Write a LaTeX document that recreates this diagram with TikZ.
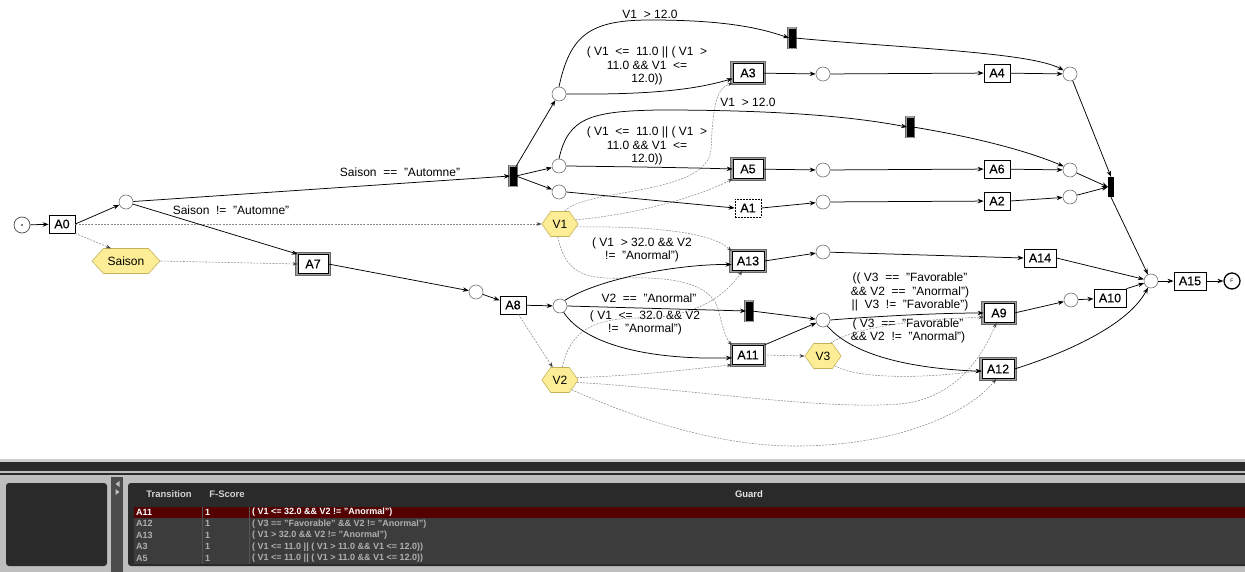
\documentclass[tikz,border=0pt]{standalone}
\usepackage{fontspec}
\setmainfont{Liberation Sans}
\newfontfamily\nodefam{Liberation Sans}[FakeBold=0.35]
\usetikzlibrary{arrows.meta,shapes.symbols,calc}
\definecolor{hexfill}{RGB}{253,237,150}
\definecolor{hexdraw}{RGB}{196,178,92}
\definecolor{depgray}{RGB}{140,140,140}
\definecolor{panelbg}{RGB}{190,190,190}
\definecolor{panellight}{RGB}{205,205,205}
\definecolor{paneldark}{RGB}{42,42,42}
\definecolor{tablebg}{RGB}{60,60,60}
\definecolor{tableline}{RGB}{85,85,85}
\definecolor{selred}{RGB}{84,0,0}
\definecolor{rowtxt}{RGB}{175,175,175}
\begin{document}
\begin{tikzpicture}[x=1pt,y=-1pt,
  nodefont/.style={font=\nodefam\fontsize{12.5}{14}\selectfont},
  act/.style={draw=black, line width=0.7pt, fill=white, minimum width=26pt, minimum height=18pt, inner xsep=5pt, inner ysep=0pt, nodefont},
  dact/.style={act, minimum width=30pt, minimum height=19pt, preaction={draw=black!60, line width=5.4pt}, preaction={draw=black!38, line width=3.6pt}},
  place/.style={circle, draw=black!55, line width=0.6pt, fill=white, minimum size=14pt, inner sep=0pt},
  blk/.style={rectangle, fill=black, draw=black, line width=0.4pt, minimum width=5.5pt, minimum height=18.5pt, inner sep=0pt, preaction={draw=black!60, line width=4.2pt}, preaction={draw=black!38, line width=2.8pt}},
  blkplain/.style={rectangle, fill=black, minimum width=6pt, minimum height=20pt, inner sep=0pt},
  hexa/.style={signal, signal to=west and east, signal pointer angle=110, fill=hexfill, draw=hexdraw, line width=0.6pt, minimum width=35pt, minimum height=25pt, inner xsep=2pt, inner ysep=0pt, font=\fontsize{12}{13}\selectfont},
  lab/.style={font=\fontsize{12}{13.6}\selectfont, align=center, inner sep=0pt},
  arc/.style={draw=black, line width=0.75pt, -{Stealth[length=6pt,width=4.5pt]}},
  dep/.style={draw=depgray, line width=0.55pt, dash pattern=on 2pt off 1.2pt, -{Stealth[length=5pt,width=3.6pt,color=black!75]}},
  hdr/.style={font=\fontsize{9.5}{11}\selectfont\bfseries, text=black!18, inner sep=0pt},
  cell/.style={font=\fontsize{9}{10}\selectfont\bfseries, text=rowtxt, inner sep=0pt, anchor=west},
  selcell/.style={cell, text=white}
]
\useasboundingbox (0,0) rectangle (1245,572);

% ---------------- nodes ----------------
\node[circle, draw=black!70, line width=0.7pt, fill=white, minimum size=16pt, inner sep=0pt] (s) at (22,225) {};
\fill[black] (s.center) circle (0.9pt);
\node[act] (A0) at (62,224) {A0};
\node[place] (p1) at (126,202) {};
\node[hexa, minimum width=68pt, signal pointer angle=95] (Sa) at (126,261) {Saison};
\node[dact] (A7) at (313,264) {A7};
\node[blk] (T1) at (513,176) {};
\node[place] (p2) at (559,94) {};
\node[place] (p3) at (559,166) {};
\node[place] (p4) at (559,192) {};
\node[blk] (T2) at (792,38) {};
\node[dact] (A3) at (748,73) {A3};
\node[place] (p5) at (823,74) {};
\node[act] (A4) at (997,73) {A4};
\node[place] (p6) at (1070,74) {};
\node[blk] (T3) at (910,127) {};
\node[dact] (A5) at (748,169) {A5};
\node[place] (p7) at (823,170) {};
\node[act] (A6) at (997,169) {A6};
\node[place] (p8) at (1070,170) {};
\node[act, dash pattern=on 1.6pt off 1.4pt] (A1) at (748,208) {A1};
\node[place] (p9) at (823,202) {};
\node[act] (A2) at (997,201) {A2};
\node[place] (p10) at (1070,197) {};
\node[blkplain] (T4) at (1111,187) {};
\node[hexa] (V1) at (560,224) {V1};
\node[dact] (A13) at (748,261) {A13};
\node[place] (p11) at (823,252) {};
\node[act] (A14) at (1040,258) {A14};
\node[place] (p12) at (476,292) {};
\node[act] (A8) at (513,305) {A8};
\node[place] (p13) at (560,306) {};
\node[blk] (T5) at (749,311) {};
\node[place] (p14) at (823,320) {};
\node[dact] (A11) at (748,355) {A11};
\node[hexa] (V3) at (823,356) {V3};
\node[hexa] (V2) at (560,380) {V2};
\node[dact] (A9) at (999,313) {A9};
\node[place] (p15) at (1071,300) {};
\node[act] (A10) at (1110,298) {A10};
\node[dact] (A12) at (998,369) {A12};
\node[place] (p16) at (1151,281) {};
\node[act] (A15) at (1190,281) {A15};
\node[circle, draw=black, line width=1.3pt, fill=white, minimum size=16pt, inner sep=0pt, font=\fontsize{5}{6}\selectfont] (F) at (1232,281) {F};

% ---------------- labels ----------------
\node[lab] (g1) at (650,14) {V1\ \ > 12.0};
\node[lab] (g2) at (647,66) {( V1\ \ <=\ \ 11.0 || ( V1\ \ >\\11.0 \&\& V1\ \ <=\\12.0))};
\node[lab] (g3) at (748,102) {V1\ \ > 12.0};
\node[lab] (g4) at (647,146) {( V1\ \ <=\ \ 11.0 || ( V1\ \ >\\11.0 \&\& V1\ \ <=\\12.0))};
\node[lab] (g5) at (400,172) {Saison\ \ ==\ \ "Automne"};
\node[lab] (g6) at (231,210) {Saison\ \ !=\ \ "Automne"};
\node[lab] (g7) at (642,250) {( V1\ \ > 32.0 \&\& V2\\!=\ \ "Anormal")};
\node[lab] (g8) at (649,298) {V2\ \ ==\ \ "Anormal"};
\node[lab] (g9) at (645,323) {( V1\ \ <=\ \ 32.0 \&\& V2\\!=\ \ "Anormal")};
\node[lab] (g10) at (910,292) {(( V3\ \ ==\ \ "Favorable"\\\&\& V2\ \ ==\ \ "Anormal")\\||\ \ V3\ \ !=\ \ "Favorable")};
\node[lab] (g11) at (908,331) {( V3\ \ ==\ \ "Favorable"\\\&\& V2\ \ !=\ \ "Anormal")};

% ---------------- data dependencies (dashed) ----------------
\draw[dep] (A0.east) -- (V1.west);
\draw[dep] (A0.south east) -- (Sa.140);
\draw[dep] (Sa.east) -- (A7.west);
\draw[dep] (A8.-60) -- (V2.120);
\draw[dep] (A11.east) -- (V3.west);
\draw[dep] (V1.70) .. controls (585,188) and (706,196) .. (711,150) .. controls (713,100) and (718,88) .. (A3.south west);
\draw[dep] (V1.15) .. controls (640,214) and (700,196) .. (A5.south west);
\draw[dep] (V1.-10) .. controls (650,226) and (712,232) .. (A13.north west);
\draw[dep] (V1.-100) .. controls (565,270) and (580,280) .. (625,278) .. controls (690,276) and (714,290) .. (719,312) .. controls (723,330) and (727,340) .. (A11.north west);
\draw[dep] (V2.80) .. controls (570,332) and (592,318) .. (640,318) .. controls (690,318) and (722,300) .. (A13.-120);
\draw[dep] (V2.8) .. controls (650,375) and (700,368) .. (A11.south west);
\draw[dep] (V2.-8) .. controls (700,390) and (820,410) .. (900,404) .. controls (960,398) and (985,350) .. (A9.-105);
\draw[dep] (V2.-40) .. controls (640,420) and (720,447) .. (800,446) .. controls (900,445) and (970,412) .. (A12.-100);
\draw[dep] (V3.60) .. controls (850,330) and (900,320) .. (A9.195);
\draw[dep] (V3.-40) .. controls (860,380) and (930,378) .. (A12.185);

% ---------------- control flow (solid) ----------------
\draw[arc] (s) -- (A0);
\draw[arc] (A0.east) -- (p1);
\draw[arc] (p1) -- (T1.west);
\draw[arc] (p1) -- (A7.north west);
\draw[arc] (T1.north east) -- (p2);
\draw[arc] (T1.east) -- (p3);
\draw[arc] (T1.east) -- (p4);
\draw[arc] (p2.north) .. controls (570,35) and (590,20) .. (650,20) .. controls (725,20) and (760,28) .. (T2.west);
\draw[arc] (p2.east) .. controls (660,95) and (700,88) .. (A3.200);
\draw[arc] (T2.east) .. controls (900,48) and (1030,52) .. (p6.150);
\draw[arc] (A3) -- (p5);
\draw[arc] (p5) -- (A4);
\draw[arc] (A4) -- (p6);
\draw[arc] (p3.north) .. controls (568,118) and (590,111) .. (660,110) .. controls (790,110) and (860,118) .. (T3.west);
\draw[arc] (p3.east) .. controls (650,167) and (700,168) .. (A5.west);
\draw[arc] (T3.east) .. controls (980,138) and (1030,152) .. (p8.150);
\draw[arc] (A5) -- (p7);
\draw[arc] (p7) -- (A6);
\draw[arc] (A6) -- (p8);
\draw[arc] (p4.east) -- (A1.west);
\draw[arc] (A1.east) -- (p9);
\draw[arc] (p9) -- (A2);
\draw[arc] (A2.east) -- (p10);
\draw[arc] (p6) -- (T4.north);
\draw[arc] (p8) -- (T4.west);
\draw[arc] (p10) -- (T4.west);
\draw[arc] (T4.south) -- (p16);
\draw[arc] (A7.east) -- (p12);
\draw[arc] (p12) -- (A8);
\draw[arc] (A8) -- (p13);
\draw[arc] (p13.50) .. controls (600,278) and (680,264) .. (A13.192);
\draw[arc] (p13.east) -- (T5.west);
\draw[arc] (p13.-60) .. controls (585,345) and (650,360) .. (A11.190);
\draw[arc] (A13.east) -- (p11);
\draw[arc] (p11) -- (A14.west);
\draw[arc] (A14.east) -- (p16);
\draw[arc] (T5.east) -- (p14);
\draw[arc] (A11.north east) -- (p14);
\draw[arc] (p14.east) .. controls (880,316) and (940,313) .. (A9.west);
\draw[arc] (p14.-55) .. controls (850,352) and (900,368) .. (A12.188);
\draw[arc] (A9.east) -- (p15);
\draw[arc] (p15) -- (A10);
\draw[arc] (A10.north east) -- (p16);
\draw[arc] (A12.east) .. controls (1075,350) and (1130,322) .. (p16.245);
\draw[arc] (p16) -- (A15);
\draw[arc] (A15) -- (F);

% ---------------- bottom panel ----------------
\fill[panelbg] (0,459) rectangle (1245,572);
\fill[panellight] (0,459) rectangle (1245,462);
\fill[paneldark] (0,462) rectangle (1245,470.5);
\fill[paneldark] (0,472.5) rectangle (1245,475);
\fill[paneldark, rounded corners=3pt] (6,483) rectangle (107,566);
\fill[black!70] (111,477) rectangle (123,572);
\fill[black!25] (119.5,481) -- (119.5,487) -- (115.5,484) -- cycle;
\fill[black!25] (115.5,489) -- (115.5,495) -- (119.5,492) -- cycle;
\fill[paneldark, rounded corners=3pt] (128,483) rectangle (1260,566);
\fill[tablebg] (134,507) rectangle (1245,563.5);
\fill[selred] (134,507) rectangle (1245,517.5);
\draw[tableline, line width=0.4pt] (202,507) -- (202,563.5);
\draw[tableline, line width=0.4pt] (249,507) -- (249,563.5);
\node[hdr] (h1) at (169,494.5) {Transition};
\node[hdr] (h2) at (227,494.5) {F-Score};
\node[hdr, text=black!10] (h3) at (749,494.5) {Guard};
\node[selcell] (r1a) at (136,512.3) {A11};
\node[selcell] (r1b) at (205,512.3) {1};
\node[selcell] (r1c) at (252,512.3) {( V1 <= 32.0 \&\& V2 != "Anormal")};
\node[cell] (r2a) at (136,523.8) {A12};
\node[cell] (r2b) at (205,523.8) {1};
\node[cell] (r2c) at (252,523.8) {( V3 == "Favorable" \&\& V2 != "Anormal")};
\node[cell] (r3a) at (136,535.3) {A13};
\node[cell] (r3b) at (205,535.3) {1};
\node[cell] (r3c) at (252,535.3) {( V1 > 32.0 \&\& V2 != "Anormal")};
\node[cell] (r4a) at (136,546.8) {A3};
\node[cell] (r4b) at (205,546.8) {1};
\node[cell] (r4c) at (252,546.8) {( V1 <= 11.0 || ( V1 > 11.0 \&\& V1 <= 12.0))};
\node[cell] (r5a) at (136,558.3) {A5};
\node[cell] (r5b) at (205,558.3) {1};
\node[cell] (r5c) at (252,558.3) {( V1 <= 11.0 || ( V1 > 11.0 \&\& V1 <= 12.0))};
\end{tikzpicture}
\end{document}
